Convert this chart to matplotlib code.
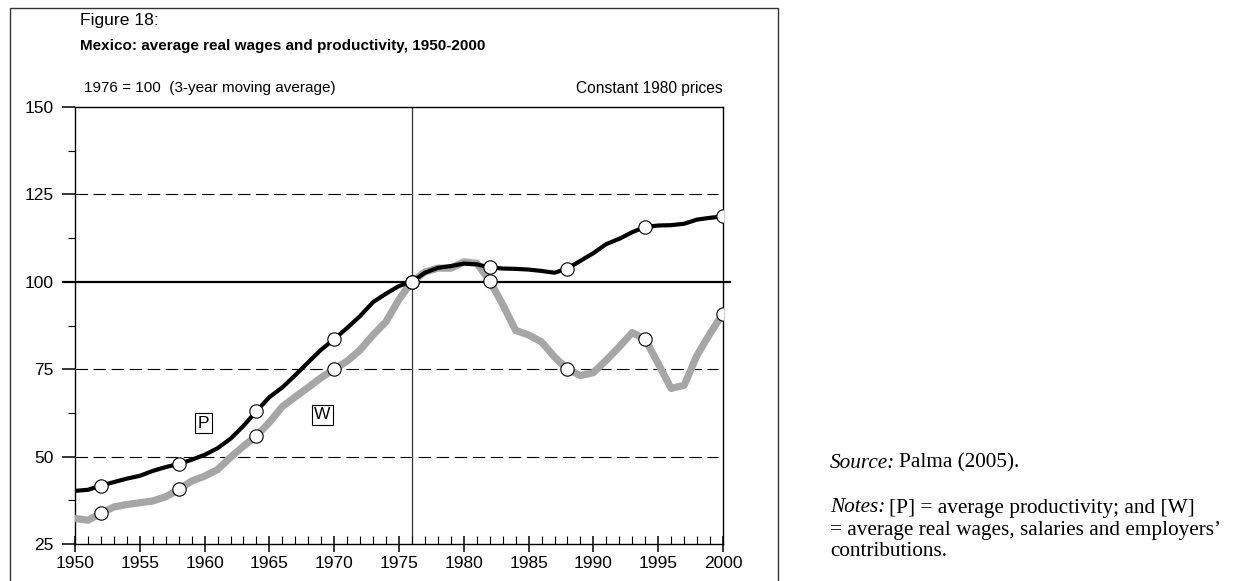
import matplotlib
matplotlib.use("Agg")
import matplotlib.pyplot as plt
from matplotlib.patches import Rectangle
from matplotlib.ticker import MultipleLocator, FixedLocator

years = list(range(1950, 2001))
productivity = [40.2, 40.5, 41.7, 42.7, 43.7, 44.5, 45.9, 47.0, 47.9, 49.1,
                50.5, 52.4, 55.1, 58.8, 63.0, 67.0, 69.8, 73.3, 77.0, 80.6,
                83.6, 86.8, 90.2, 94.2, 96.6, 98.8, 100.0, 102.6, 104.0, 104.5,
                105.2, 105.0, 104.1, 103.8, 103.7, 103.5, 103.1, 102.6, 103.8, 106.0,
                108.2, 110.8, 112.3, 114.2, 115.7, 116.1, 116.2, 116.6, 117.8, 118.3,
                118.7]
wages = [32.3, 31.8, 33.8, 35.6, 36.3, 36.8, 37.3, 38.5, 40.6, 43.0,
         44.4, 46.3, 49.8, 53.0, 55.9, 59.8, 64.3, 67.1, 69.8, 72.6,
         75.0, 77.3, 80.5, 84.8, 88.6, 95.0, 100.0, 102.8, 103.9, 103.9,
         105.7, 105.3, 100.3, 93.5, 86.1, 84.8, 82.8, 78.5, 75.0, 73.2,
         74.0, 77.6, 81.4, 85.5, 83.5, 76.6, 69.5, 70.4, 79.0, 85.2,
         90.9]
x_ticks = [1950, 1955, 1960, 1965, 1970, 1975, 1980, 1985, 1990, 1995, 2000]
y_ticks = [25, 50, 75, 100, 125, 150]
dashed_levels = [50, 75, 125]

W, H = 1237, 581
plt.rcParams['font.family'] = ['Liberation Sans', 'DejaVu Sans']
plt.rcParams['lines.scale_dashes'] = False
fig = plt.figure(figsize=(W / 100, H / 100), dpi=100)
ax = fig.add_axes([75 / W, 1 - 544 / H, (723 - 75) / W, (544 - 107) / H])

def fx(px):
    return px / W

def fy(py):
    return 1 - py / H

# outer frame
fig.patches.append(Rectangle((fx(10), -0.02), fx(768), fy(8) + 0.02,
                             transform=fig.transFigure, fill=False,
                             edgecolor='#333333', linewidth=1.0))

ax.set_xlim(1950, 2000)
ax.set_ylim(25, 150)

for lvl in dashed_levels:
    ax.plot([1950, 1999.6], [lvl, lvl], color='black', lw=0.8,
            linestyle=(0, (9, 4)), zorder=1)
ax.plot([-0.0185, 1.011], [100, 100], color='black', lw=1.6,
        transform=ax.get_yaxis_transform(), clip_on=False, zorder=1)
ax.axvline(1976, color='#333333', lw=0.9, zorder=1)

marks = slice(2, None, 6)
ax.plot(years, wages, color='#a6a6a6', lw=5.2, solid_joinstyle='round', zorder=3)
ax.plot(years, productivity, color='black', lw=3, solid_joinstyle='round', zorder=4)
ax.plot(years[marks], wages[marks], linestyle='none', marker='o', ms=9.6,
        mfc='white', mec='black', mew=0.8, zorder=5)
ax.plot(years[marks], productivity[marks], linestyle='none', marker='o', ms=9.6,
        mfc='white', mec='black', mew=0.8, zorder=6)

box = dict(boxstyle='square,pad=0.15', fc='white', ec='black', lw=0.8)
ax.text(1959.9, 59.6, 'P', fontsize=12.5, ha='center', va='center', bbox=box, zorder=7)
ax.text(1969.1, 62.0, 'W', fontsize=12.5, ha='center', va='center', bbox=box, zorder=7)

ax.xaxis.set_major_locator(FixedLocator(x_ticks))
ax.xaxis.set_minor_locator(MultipleLocator(1))
ax.yaxis.set_major_locator(FixedLocator(y_ticks))
ax.yaxis.set_minor_locator(FixedLocator([37.5, 62.5, 87.5, 112.5, 137.5]))
ax.tick_params(axis='x', which='major', direction='inout', length=12, width=1.1,
               labelsize=12.5, pad=3)
ax.tick_params(axis='x', which='minor', direction='in', length=6, width=0.8)
ax.tick_params(axis='y', which='major', direction='out', length=9.5, width=1.1,
               labelsize=12.5, pad=6)
ax.tick_params(axis='y', which='minor', direction='out', length=5, width=0.8)
for s in ax.spines.values():
    s.set_linewidth(1.0)
    s.set_color('black')

fig.text(fx(80), fy(21), 'Figure 18:', fontsize=12.6, ha='left', va='center')
fig.text(fx(80), fy(46), 'Mexico: average real wages and productivity, 1950-2000',
         fontsize=11.0, fontweight='bold', ha='left', va='center')
fig.text(fx(84), fy(88), '1976 = 100  (3-year moving average)', fontsize=11.0,
         ha='left', va='center')
fig.text(fx(723), fy(88), 'Constant 1980 prices', fontsize=11.2,
         ha='right', va='center')

serif = ['Liberation Serif', 'DejaVu Serif']
fs = 15.3
renderer = fig.canvas.get_renderer()

def mixed(px, py, parts):
    x = fx(px)
    for txt, style, gap in parts:
        x += gap / W
        t = fig.text(x, fy(py), txt, fontsize=fs, family=serif, style=style,
                     ha='left', va='center')
        bb = t.get_window_extent(renderer=renderer)
        x += bb.width / W

mixed(830, 463, [('Source:', 'italic', 0), ('Palma (2005).', 'normal', 4)])
mixed(830, 508, [('Notes:', 'italic', 0), ('[P] = average productivity; and [W]', 'normal', 4)])
mixed(830, 530, [('= average real wages, salaries and employers\u2019', 'normal', 0)])
mixed(830, 552, [('contributions.', 'normal', 0)])

fig.savefig('out.png', dpi=100)
